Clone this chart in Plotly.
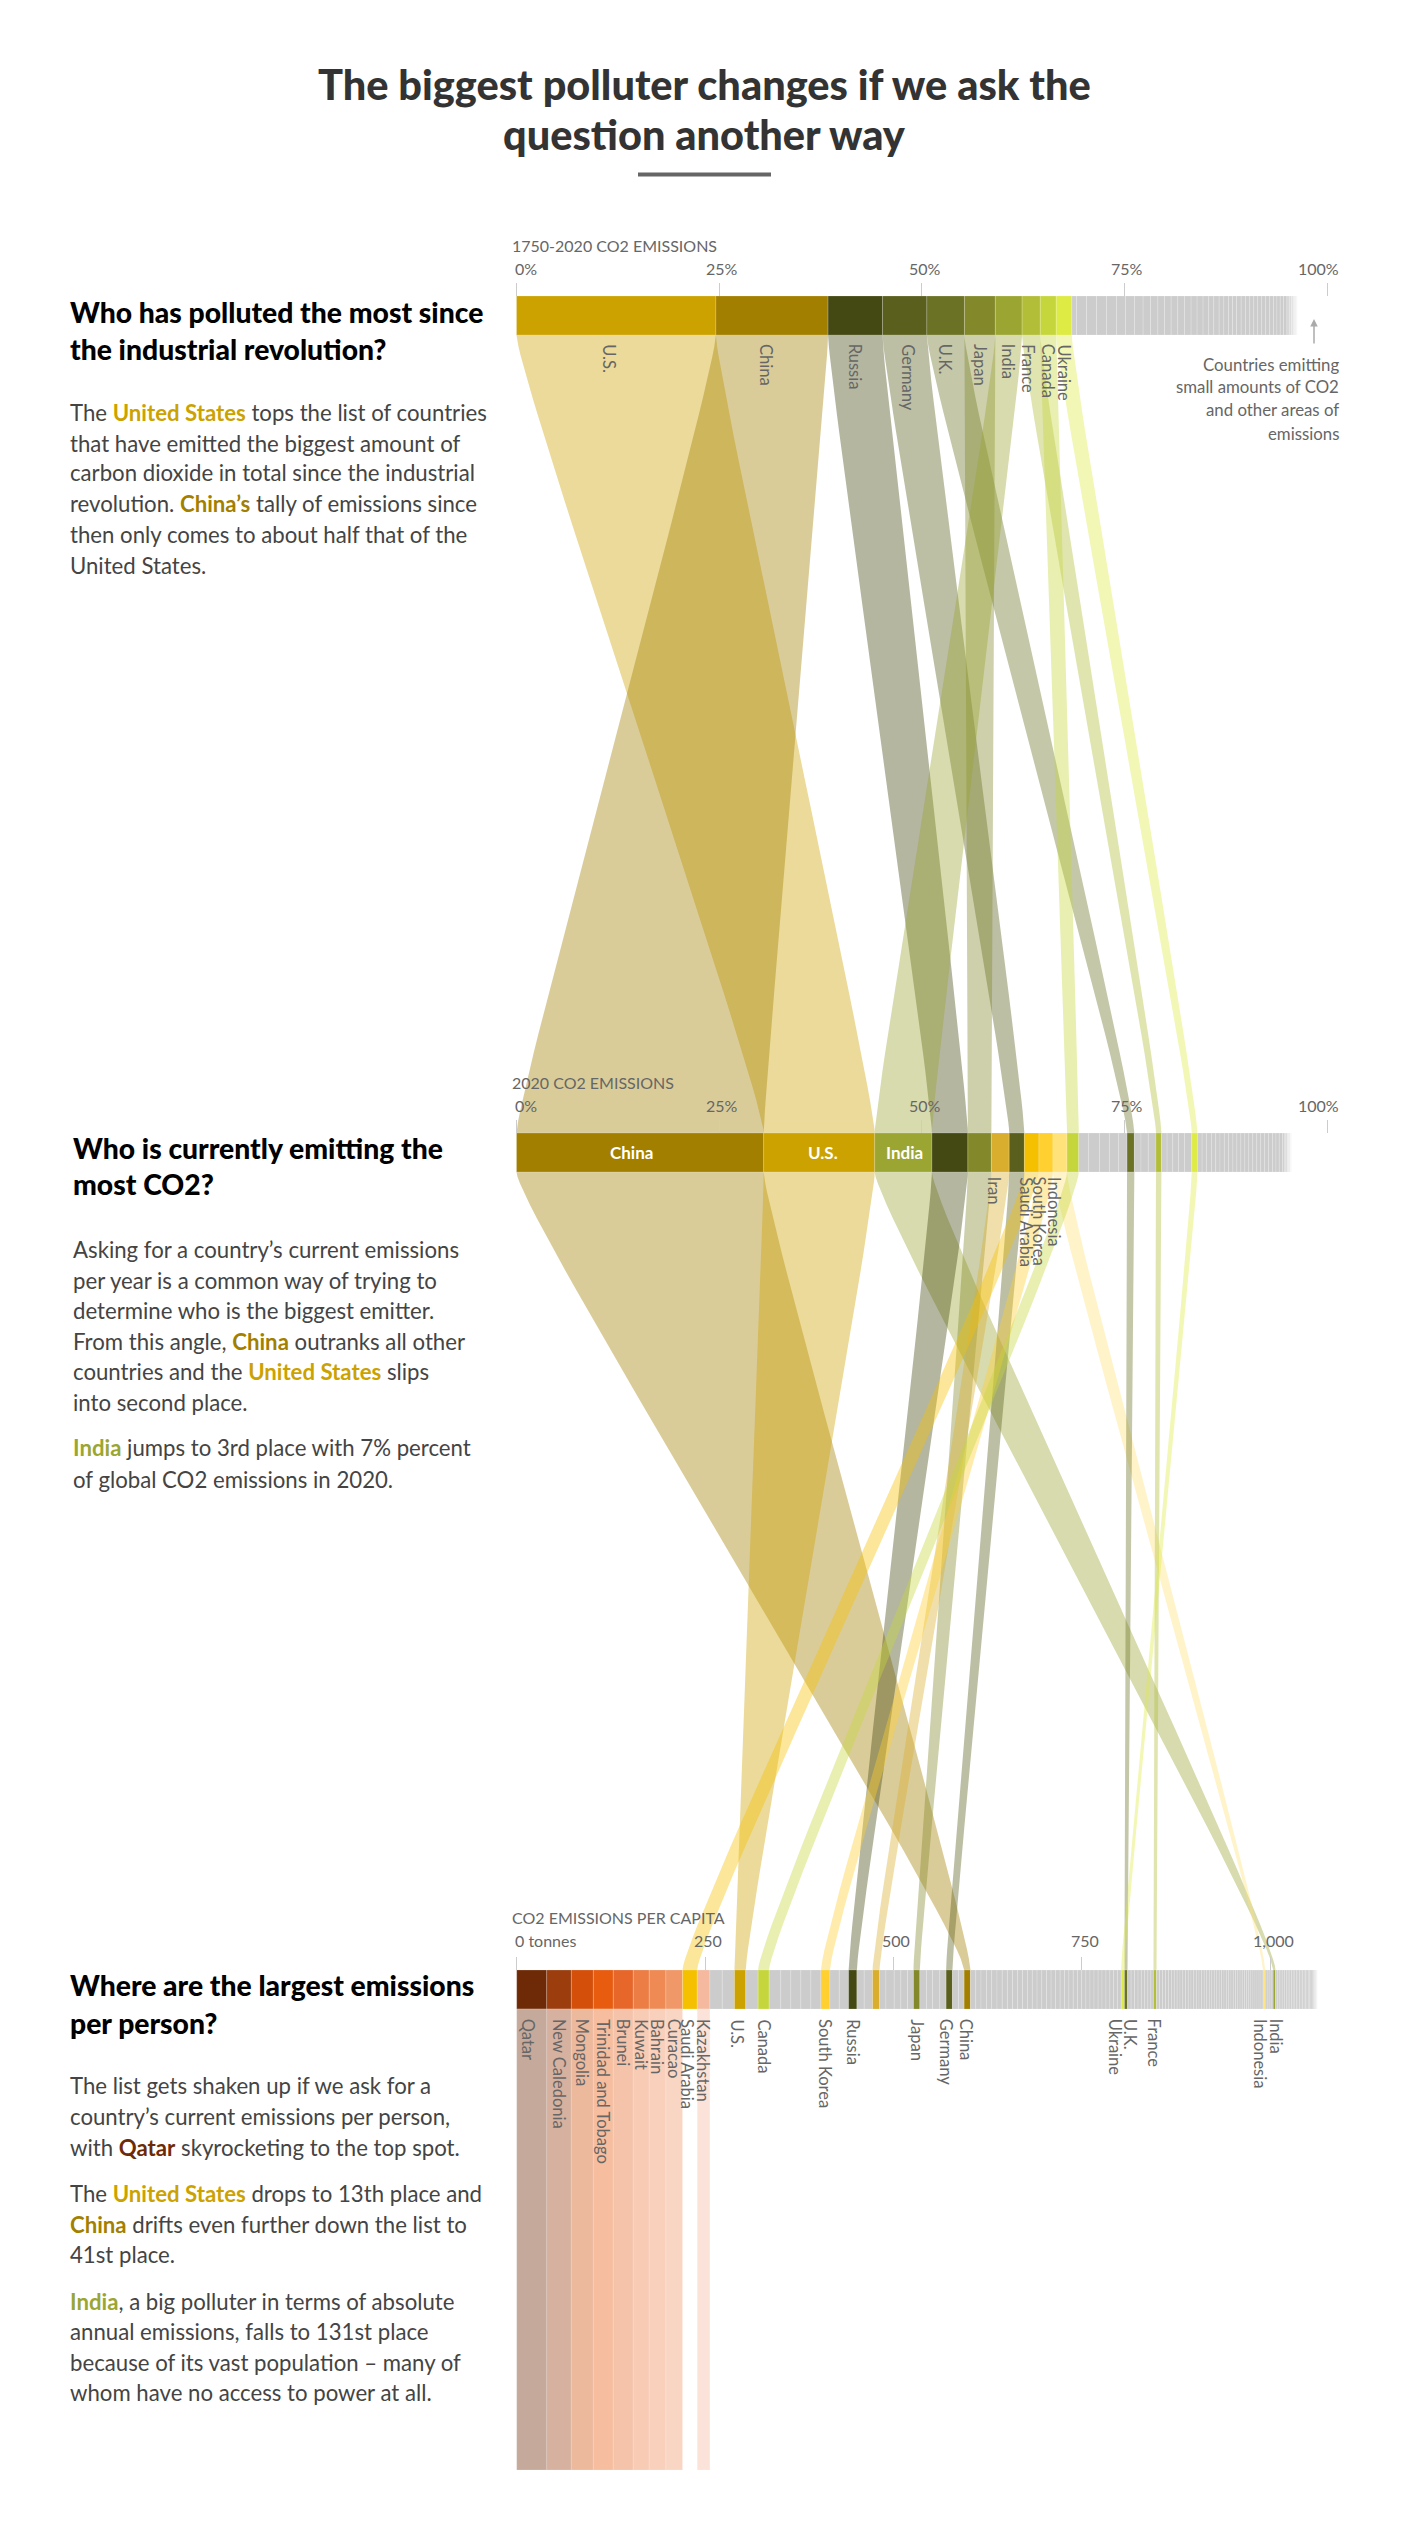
import plotly.graph_objects as go
import numpy as np

# 1750-2020 share of world CO2, percent ('' = other countries, grey)
hist_values = [24.6, 13.84, 6.72, 5.47, 4.64, 3.81, 3.3, 2.24, 1.97, 1.93,
               .58, 1.23, 1.23, 1.23, 1.23, 1.11, 1.11, 1.07, .91, .91, .82, .82, .82, .82, .82, .74, .74, .70, .62, .66,
               .58, .58, .49, .49, .58, .53, .53, .49, .49, .49, .49, .49, .49, .41, .41, .41, .41,
               .29, .29, .2, .2, .15, .15]
hist_names = ['U.S.', 'China', 'Russia', 'Germany', 'U.K.', 'Japan', 'India', 'France', 'Canada', 'Ukraine']
hist_names = hist_names + [''] * (len(hist_values) - len(hist_names))

# 2020 share, percent
cur_values = [30.5, 13.7, 7.06, 4.43, 2.9, 2.2, 1.87, 1.8, 1.73, 1.73, 1.45,
              1.23, 1.32, 1.23, 1.15, 1.03, .9, .82, .9, .95, .67, .7, .7, .7, .74, .9, .7,
              .58, .53, .62, .53, .53, .53, .53, .53, .49, .49, .49, .49, .49, .49, .49, .49, .49, .49,
              .41, .41, .41, .2, .2, .2, .15, .15, .1, .1]
cur_names = ['China', 'U.S.', 'India', 'Russia', 'Japan', 'Iran', 'Germany', 'Saudi Arabia', 'South Korea', 'Indonesia', 'Canada',
             '', '', '', '', '', 'U.K.', '', '', '', 'France', '', '', '', '', '', 'Ukraine']
cur_names = cur_names + [''] * (len(cur_values) - len(cur_names))

# per capita, tonnes stacked
cap_names = ['Qatar', 'New Caledonia', 'Mongolia', 'Trinidad and Tobago', 'Brunei', 'Kuwait', 'Bahrain', 'Curacao', 'Saudi Arabia', 'Kazakhstan',
             '', '', 'U.S.', '', 'Canada', '', '', '', '', '', 'South Korea', '', '', 'Russia', '', '', 'Iran',
             '', '', '', '', '', 'Japan', '', '', '', '', 'Germany', '', '', 'China'] + [''] * 33 + \
            ['Ukraine', 'U.K.'] + [''] * 8 + ['France'] + [''] * 43 + ['Indonesia'] + [''] * 4 + ['India'] + [''] * 30
cap_values = [39.8, 32.7, 29.2, 26.5, 26.5, 21.2, 22.1, 22.1, 19.5, 16.8,
              16.4, 16.2, 15.0, 16.4, 14.6, 15.5, 13.3, 13.3, 13.3, 13.3, 12.0, 12.4, 12.4, 11.0, 9.7, 11.1, 9.3,
              8.4, 11.0, 8.8, 8.8, 8.0, 8.4, 8.8, 8.0, 9.7, 8.4, 8.4, 8.0, 7.5, 8.4,
              7.0, 7.0, 7.2, 7, 7, 7, 6.8, 6.8, 6.8, 6.5, 6.5, 6.5, 6.3, 6.3, 6.3, 6, 6, 6, 5.8, 5.8, 5.8, 5.6, 5.6, 5.6,
              5.4, 5.4, 5.4, 5.2, 5.2, 5.2, 5, 5, 5,
              4.4, 4.0,
              4.8, 4.6, 4.6, 4.4, 4.4, 4.2, 4.0, 3.5, 4.0,
              4.0, 4, 4, 3.9, 3.9, 3.8, 3.8, 3.8, 3.7, 3.7, 3.6, 3.6, 3.6, 3.5, 3.5, 3.5, 3.4, 3.4, 3.4, 3.3, 3.3, 3.3,
              3.2, 3.2, 3.2, 3.1, 3.1, 3.1, 3, 3, 3, 3, 2.9, 2.9, 2.9, 2.8, 2.8, 2.8, 2.7, 2.7, 2.7, 2.6, 2.6,
              3.0, 2.6, 2.6, 2.7, 2.7, 3.0,
              2.5, 2.5, 2.4, 2.4, 2.4, 2.3, 2.3, 2.3, 2.2, 2.2, 2.2, 2.1, 2.1, 2.1, 2, 2, 2, 1.9, 1.9, 1.8, 1.8, 1.7, 1.6,
              1.5, 1.4, 1.2, 1, .8, .6, .4]

hist_colors = {'U.S.': '#CCA200', 'China': '#A37F00', 'Russia': '#444812', 'Germany': '#5A5F1E', 'U.K.': '#6C7225',
               'Japan': '#83892B', 'India': '#9BA632', 'France': '#B2BD38', 'Canada': '#C5D63D', 'Ukraine': '#DFEB45'}
extra_colors = {'Iran': '#D9AE2E', 'Saudi Arabia': '#F5C000', 'South Korea': '#FFD030', 'Indonesia': '#FFE27A'}
top_capita_colors = {'Qatar': '#6E2A06', 'New Caledonia': '#9C3D0E', 'Mongolia': '#D34F0A', 'Trinidad and Tobago': '#E85C10',
                     'Brunei': '#E7662A', 'Kuwait': '#EC7D44', 'Bahrain': '#EF8A55', 'Curacao': '#F09868', 'Kazakhstan': '#F5B9A0'}
colors = {**hist_colors, **extra_colors, **top_capita_colors}
GREY = '#CCCCCC'
# the last stripes of each bar fade out
FADE = ['#D6D6D6', '#DCDCDC', '#E2E2E2', '#E9E9E9', '#F0F0F0', '#F7F7F7']

pct_ticks = [0, 25, 50, 75, 100]
pct_labels = ['0%', '25%', '50%', '75%', '100%']
ton_ticks = [0, 250, 500, 750, 1000]
ton_labels = ['0 tonnes', '250', '500', '750', '1,000']

W, H = 1420, 2542
# pixel scale of the three bars
X0_PCT, PX_PCT = 516.5, 8.105
X0_TON, PX_TON = 516.7, 0.7535
ROW1, ROW2, ROW3 = (296, 335), (1133, 1172), (1970, 2009)
CURTAIN_END = 2470
TEXT = '#444444'
FONT = 'Lato'


def rgba(hex_color, a=0.4):
    r, g, b = int(hex_color[1:3], 16), int(hex_color[3:5], 16), int(hex_color[5:7], 16)
    return f'rgba({r},{g},{b},{a})'


def spans(names, values):
    left = np.concatenate([[0], np.cumsum(values)[:-1]])
    return {n: (l, l + v) for n, l, v in zip(names, left, values) if n}


def edge(x0, y0, x1, y1, k=0.05):
    # bezier with short vertical ends, nearly straight in between
    t = np.linspace(0, 1, 40)
    h = y1 - y0
    b0, b1, b2, b3 = (1 - t) ** 3, 3 * t * (1 - t) ** 2, 3 * t ** 2 * (1 - t), t ** 3
    xs = (b0 + b1) * x0 + (b2 + b3) * x1
    ys = b0 * y0 + b1 * (y0 + k * h) + b2 * (y1 - k * h) + b3 * y1
    return xs, ys


def ribbon(fig, a, b, y0, y1, color):
    lx, ly = edge(a[0], y0, b[0], y1)
    rx, ry = edge(a[1], y0, b[1], y1)
    fig.add_trace(go.Scatter(x=np.concatenate([lx, rx[::-1]]), y=np.concatenate([ly, ry[::-1]]),
                             mode='lines', line=dict(width=0), fill='toself', fillcolor=rgba(color),
                             hoverinfo='skip', showlegend=False))


def bar_row(fig, names, values, row, xaxis):
    left = np.concatenate([[0], np.cumsum(values)[:-1]])
    mid = (row[0] + row[1]) / 2
    bar_colors = [colors.get(n, GREY) for n in names]
    bar_colors[-len(FADE):] = FADE
    fig.add_trace(go.Bar(x=values, base=left, y=[mid] * len(values), orientation='h', width=row[1] - row[0],
                         marker=dict(color=bar_colors, line=dict(color='rgba(255,255,255,0.3)', width=0.6)),
                         xaxis=xaxis, yaxis='y', hovertext=names, hoverinfo='text', showlegend=False))


fig = go.Figure()

s1, s2, s3 = spans(hist_names, hist_values), spans(cur_names, cur_values), spans(cap_names, cap_values)
ton_to_pct = PX_TON / PX_PCT
# tonnes zero is not exactly on the percent zero
ton_offset = (X0_TON - X0_PCT) / PX_PCT

for name in hist_names[:10]:
    ribbon(fig, s1[name], s2[name], ROW1[1], ROW2[0], colors[name])
for name in cur_names:
    if name:
        b = s3[name]
        ribbon(fig, s2[name], (b[0] * ton_to_pct + ton_offset, b[1] * ton_to_pct + ton_offset), ROW2[1], ROW3[0], colors[name])

bar_row(fig, hist_names, hist_values, ROW1, 'x')
bar_row(fig, cur_names, cur_values, ROW2, 'x2')
bar_row(fig, cap_names, cap_values, ROW3, 'x3')

# pale columns under the highest per capita emitters
curtain = [n for n in cap_names[:10] if n != 'Saudi Arabia']
fig.add_trace(go.Bar(x=[sum(s3[n]) / 2 for n in curtain], width=[s3[n][1] - s3[n][0] for n in curtain],
                     y=[CURTAIN_END - ROW3[1]] * len(curtain), base=ROW3[1],
                     marker=dict(color=[rgba(colors[n]) for n in curtain], line=dict(color='rgba(255,255,255,0.3)', width=0.6)),
                     xaxis='x3', yaxis='y', hoverinfo='skip', showlegend=False))


def note(px, py, text, size=20, color=TEXT, xanchor='left', yanchor='middle', angle=0, weight=None):
    fig.add_annotation(x=px / W, y=1 - py / H, xref='paper', yref='paper', text=text, showarrow=False,
                       xanchor=xanchor, yanchor=yanchor, textangle=angle, align=xanchor if xanchor != 'center' else 'center',
                       font=dict(family=FONT, size=size, color=color, weight=weight))


def strong(word, color):
    return f'<b><span style="color:{color}">{word}</span></b>'


# title
note(704, 84, 'The biggest polluter changes if we ask the', 41.5, '#333333', 'center', weight=900)
note(704, 134, 'question another way', 41.5, '#333333', 'center', weight=900)
fig.add_shape(type='rect', xref='paper', yref='paper', x0=638 / W, x1=771 / W, y0=1 - 172.5 / H, y1=1 - 176.5 / H,
              fillcolor='#666666', line_width=0)

US = strong('United States', '#CCA200')
CN = '#A37F00'
IN = '#9BA632'

blocks = [
    (68, ['Who has polluted the most since', 'the industrial revolution?'], [312, 349],
     ['The ' + US + ' tops the list of countries',
      'that have emitted the biggest amount of',
      'carbon dioxide in total since the industrial',
      'revolution. ' + strong('China’s', CN) + ' tally of emissions since',
      'then only comes to about half that of the',
      'United States.'],
     [412.5, 443, 473, 503.5, 534, 565]),
    (71, ['Who is currently emitting the', 'most CO2?'], [1148, 1184],
     ['Asking for a country’s current emissions',
      'per year is a common way of trying to',
      'determine who is the biggest emitter.',
      'From this angle, ' + strong('China', CN) + ' outranks all other',
      'countries and the ' + US + ' slips',
      'into second place.',
      strong('India', IN) + ' jumps to 3rd place with 7% percent',
      'of global CO2 emissions in 2020.'],
     [1249, 1280, 1310, 1341, 1371, 1402, 1448, 1479]),
    (68, ['Where are the largest emissions', 'per person?'], [1985, 2023],
     ['The list gets shaken up if we ask for a',
      'country’s current emissions per person,',
      'with ' + strong('Qatar', '#6E2A06') + ' skyrocketing to the top spot.',
      'The ' + US + ' drops to 13th place and',
      strong('China', CN) + ' drifts even further down the list to',
      '41st place.',
      strong('India', IN) + ', a big polluter in terms of absolute',
      'annual emissions, falls to 131st place',
      'because of its vast population – many of',
      'whom have no access to power at all.'],
     [2085.5, 2116, 2147, 2193, 2224, 2254.5, 2301, 2331, 2362, 2392.5]),
]
for x, head, head_y, body, body_y in blocks:
    for line, y in zip(head, head_y):
        note(x, y, line, 28.3, '#000000', weight=900)
    for line, y in zip(body, body_y):
        note(x, y, line, 22.2)

# captions above the bars
note(510, 245, '1750-2020 CO2 EMISSIONS', 16, '#666666')
note(510, 1082, '2020 CO2 EMISSIONS', 16, '#666666')
note(510, 1917, 'CO2 EMISSIONS PER CAPITA', 16, '#666666')


def axis_labels(ticks, labels, xref, py):
    for i, (t, lab) in enumerate(zip(ticks, labels)):
        anchor = 'left' if i == 0 else ('right' if lab == '100%' else 'center')
        shift = -4 if i == 0 else (14 if lab == '100%' else 3)
        fig.add_annotation(x=t, y=py, xref=xref, yref='y', text=lab, showarrow=False, xanchor=anchor, yanchor='middle',
                           xshift=shift, font=dict(family=FONT, size=16, color='#666666'))


axis_labels(pct_ticks, pct_labels, 'x', 268)
axis_labels(pct_ticks, pct_labels, 'x2', 1105.5)
axis_labels(ton_ticks, ton_labels, 'x3', 1940)


def rotated(name, span, xref, py, shift=0):
    fig.add_annotation(x=sum(span) / 2, y=py, xref=xref, yref='y', text=name, textangle=90, showarrow=False,
                       xanchor='center', yanchor='top', xshift=shift, font=dict(family=FONT, size=16.5, color='#666666'))


top_nudge = {'U.S.': -7, 'China': -6, 'Germany': 3, 'France': -3}
for name in hist_names[:10]:
    rotated(name, s1[name], 'x', 342, top_nudge.get(name, 0))
for name in ['Iran', 'Saudi Arabia', 'South Korea', 'Indonesia']:
    rotated(name, s2[name], 'x2', 1175, -6)
bar_nudge = {'China': -9, 'U.S.': 4, 'India': 1}
for name in ['China', 'U.S.', 'India']:
    fig.add_annotation(x=sum(s2[name]) / 2, y=sum(ROW2) / 2, xref='x2', yref='y', text=f'<b>{name}</b>', showarrow=False,
                       xshift=bar_nudge[name], font=dict(family=FONT, size=17, color='white'))
nudge = {'Ukraine': -7, 'U.K.': 4.5, 'Indonesia': -4, 'India': 2.5, 'Saudi Arabia': -3, 'Germany': -3, 'China': -1, 'U.S.': -3, 'Qatar': -3}
for name in cap_names:
    if name and name != 'Iran':
        rotated(name, s3[name], 'x3', 2017, nudge.get(name, 0))

# note about the small emitters
fig.add_annotation(x=1314 / W, y=1 - 319 / H, xref='paper', yref='paper', ax=0, ay=26, text='', showarrow=True,
                   arrowcolor='#AAAAAA', arrowhead=2, arrowsize=1, arrowwidth=1.5)
for line, y in zip(['Countries emitting', 'small amounts of CO2', 'and other areas of', 'emissions'], [364, 387, 410, 433]):
    note(1341, y, line, 16.8, '#666666', 'right')


def pct_axis(y_px):
    return dict(range=[-X0_PCT / PX_PCT, (W - X0_PCT) / PX_PCT], domain=[0, 1], anchor='free', position=1 - y_px / H, side='top',
                tickmode='array', tickvals=pct_ticks, showticklabels=False, ticks='outside', ticklen=13, tickcolor='#CCCCCC',
                tickwidth=1, showgrid=False, zeroline=False, showline=False, fixedrange=True)


fig.update_layout(
    width=W, height=H, margin=dict(l=0, r=0, t=0, b=0), plot_bgcolor='white', paper_bgcolor='white',
    barmode='overlay', showlegend=False, font=dict(family=FONT),
    xaxis=pct_axis(ROW1[0]),
    xaxis2={**pct_axis(ROW2[0]), 'overlaying': 'x'},
    xaxis3=dict(range=[-X0_TON / PX_TON, (W - X0_TON) / PX_TON], domain=[0, 1], anchor='free', position=1 - ROW3[0] / H, side='top',
                overlaying='x', tickmode='array', tickvals=ton_ticks, showticklabels=False, ticks='outside', ticklen=13,
                tickcolor='#CCCCCC', tickwidth=1, showgrid=False, zeroline=False, showline=False, fixedrange=True),
    yaxis=dict(range=[H, 0], domain=[0, 1], visible=False, fixedrange=True),
)
fig.write_html('out.html', post_script="document.body.style.margin='0';", config={'displayModeBar': False})
